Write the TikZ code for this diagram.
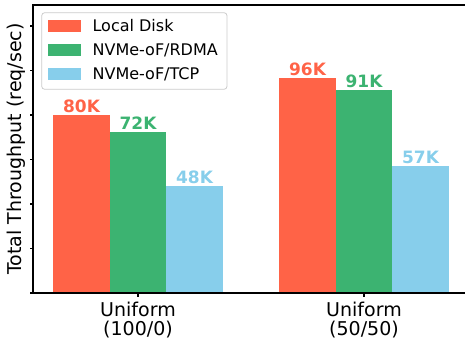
\documentclass[tikz,border=0pt]{standalone}
\usepackage{fontspec}
\setmainfont{DejaVu Sans}
\definecolor{tomatoc}{HTML}{FF6347}
\definecolor{seagreenc}{HTML}{3CB371}
\definecolor{skybluec}{HTML}{87CEEB}
\begin{document}
\begin{tikzpicture}[x=1pt, y=1pt] % throughput chart
\tikzstyle{bar} = [line width=0pt] % bar style
\tikzstyle{barlabel} = [anchor=base, inner sep=0pt, font=\fontsize{17}{20}\selectfont\bfseries] % value above bar
\tikzstyle{ticklabel} = [anchor=base, inner sep=0pt, font=\fontsize{19}{22}\selectfont] % category text
\tikzstyle{legendtext} = [anchor=base west, inner sep=0pt, font=\fontsize{16}{19}\selectfont]
\tikzstyle{legendpatch} = [minimum width=33pt, minimum height=11.7pt, inner sep=0pt]
\tikzstyle{spine} = [line width=1.1pt, black]
\useasboundingbox (0,0) rectangle (465,346);
% bars, group 1
\fill[bar, tomatoc] (53.25,53) rectangle (109.75,231);
\fill[bar, seagreenc] (109.75,53) rectangle (166.25,214);
\fill[bar, skybluec] (166.25,53) rectangle (222.75,160.3);
% bars, group 2
\fill[bar, tomatoc] (279.25,53) rectangle (335.75,267.5);
\fill[bar, seagreenc] (335.75,53) rectangle (392.25,256);
\fill[bar, skybluec] (392.25,53) rectangle (448.75,180);
% values
\node[barlabel, text=tomatoc] (v1a) at (81.5,233.5) {80K};
\node[barlabel, text=seagreenc] (v1b) at (138,216.5) {72K};
\node[barlabel, text=skybluec] (v1c) at (194.5,162.8) {48K};
\node[barlabel, text=tomatoc] (v2a) at (307.5,270) {96K};
\node[barlabel, text=seagreenc] (v2b) at (364,258.5) {91K};
\node[barlabel, text=skybluec] (v2c) at (420.5,182.5) {57K};
% axes
\coordinate (o) at (33,53);
\coordinate (top) at (33,341);
\coordinate (topr) at (465,341);
\coordinate (botr) at (465,53);
\draw[spine] (botr) -- (o) -- (top) -- (topr);
\foreach \v in {0,...,6}
  \draw[line width=1.1pt] (33,53+\v*44.5) -- ++(-3.5,0);
\draw[line width=1.1pt] (138,53) -- ++(0,-3.5);
\draw[line width=1.1pt] (364,53) -- ++(0,-3.5);
\node[ticklabel] (c1) at (138,29.3) {Uniform};
\node[ticklabel] (c1s) at (138,10.5) {(100/0)};
\node[ticklabel] (c2) at (364,29.3) {Uniform};
\node[ticklabel] (c2s) at (364,10.5) {(50/50)};
\node[ticklabel, rotate=90] (ylab) at (21.2,197) {Total Throughput (req/sec)};
% legend
\node[draw=black!20, fill=white, fill opacity=0.8, rounded corners=3pt, line width=0.8pt,
      minimum width=185.3pt, minimum height=76.6pt] (legend) at (134.35,295) {};
\node[legendpatch, fill=tomatoc] (p1) at (64.5,320.2) {};
\node[legendpatch, fill=seagreenc] (p2) at (64.5,296) {};
\node[legendpatch, fill=skybluec] (p3) at (64.5,272) {};
\node[legendtext] (t1) at (92.4,314.4) {Local Disk};
\node[legendtext] (t2) at (92.4,290.2) {NVMe-oF/RDMA};
\node[legendtext] (t3) at (92.4,266.2) {NVMe-oF/TCP};
\end{tikzpicture}
\end{document}
